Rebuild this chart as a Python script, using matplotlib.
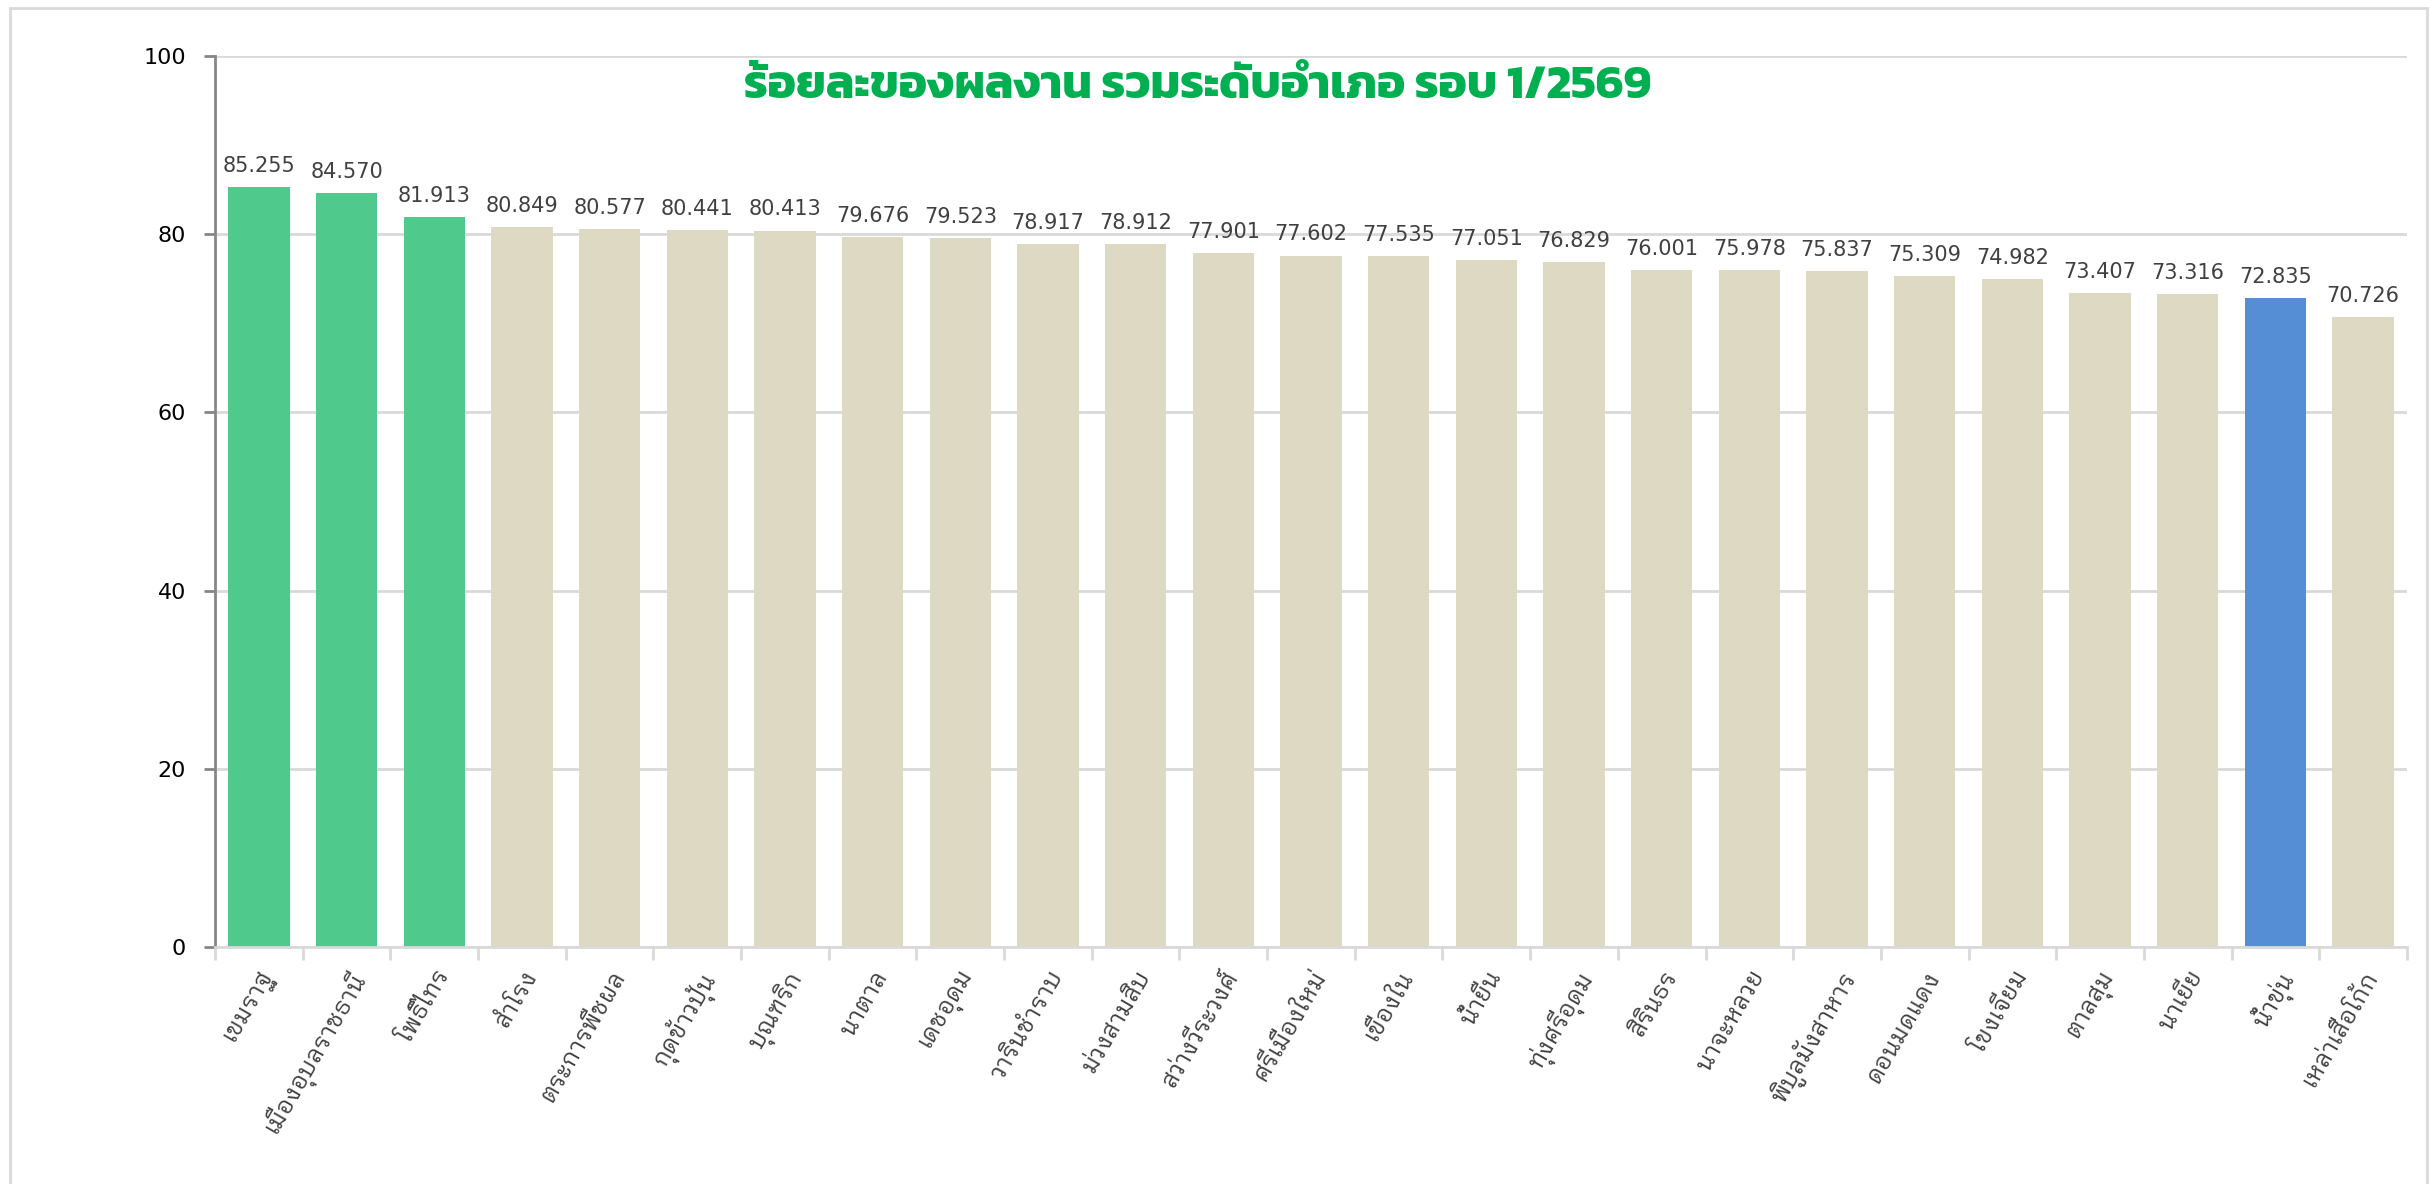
import matplotlib
matplotlib.use("Agg")
import matplotlib.pyplot as plt
import matplotlib.font_manager as fm
from matplotlib.ft2font import FT2Font
from matplotlib.patches import Rectangle
import numpy as np

districts = ["เขมราฐ", "เมืองอุบลราชธานี", "โพธิ์ไทร", "สำโรง", "ตระการพืชผล",
             "กุดข้าวปุ้น", "บุณฑริก", "นาตาล", "เดชอุดม", "วารินชำราบ",
             "ม่วงสามสิบ", "สว่างวีระวงศ์", "ศรีเมืองใหม่", "เขื่องใน", "น้ำยืน",
             "ทุ่งศรีอุดม", "สิรินธร", "นาจะหลวย", "พิบูลมังสาหาร", "ดอนมดแดง",
             "โขงเจียม", "ตาลสุม", "นาเยีย", "น้ำขุ่น", "เหล่าเสือโก้ก"]
scores = [85.255, 84.570, 81.913, 80.849, 80.577, 80.441, 80.413, 79.676, 79.523,
          78.917, 78.912, 77.901, 77.602, 77.535, 77.051, 76.829, 76.001, 75.978,
          75.837, 75.309, 74.982, 73.407, 73.316, 72.835, 70.726]
top3 = ["เขมราฐ", "เมืองอุบลราชธานี", "โพธิ์ไทร"]
highlight = "น้ำขุ่น"
title = "ร้อยละของผลงาน รวมระดับอำเภอ รอบ 1/2569"


# fonts installed here that carry Thai glyphs
thai_found = []
for f in fm.fontManager.ttflist:
    try:
        if 0x0E01 in FT2Font(f.fname).get_charmap() and f.name not in thai_found:
            thai_found.append(f.name)
    except Exception:
        pass


def pick(prefs):
    for p in prefs:
        for n in thai_found:
            if p.lower() in n.lower():
                return n
    return thai_found[0] if thai_found else "DejaVu Sans"


label_font = pick(["Tahoma", "Leelawadee", "Looped", "Loma", "Garuda", "Waree",
                   "Norasi", "Sarabun", "Noto Sans Thai", "Kanit", "Prompt"])
title_font = pick(["Kanit", "Prompt", "Mitr", "Noto Sans Thai", "Sarabun"])

colors = []
for d in districts:
    if d in top3:
        colors.append("#50CA8C")
    elif d == highlight:
        colors.append("#558ED5")
    else:
        colors.append("#DDD9C3")

fig = plt.figure(figsize=(24.3, 11.84), dpi=100)
ax = fig.add_axes([0.0885, 0.2002, 0.902, 0.7525])

x = np.arange(len(districts))
ax.bar(x, scores, width=0.7, color=colors, zorder=2)
for xi, v in zip(x, scores):
    ax.annotate(f"{v:.3f}", (xi, v), xytext=(0, 8), textcoords="offset points",
                ha="center", va="bottom", fontsize=15, color="#404040",
                family="DejaVu Sans")

ax.set_xlim(-0.5, len(districts) - 0.5)
ax.set_ylim(0, 100)
ax.set_yticks([0, 20, 40, 60, 80, 100])
ax.yaxis.grid(True, color="#D9D9D9", linewidth=2, zorder=0)
ax.tick_params(axis="y", labelsize=16, length=8, width=2, color="#868686", pad=13)

ax.set_xticks(x)
ax.set_xticklabels(districts, rotation=60, ha="right", rotation_mode="anchor",
                   fontsize=17, color="#404040", family=[label_font, "DejaVu Sans"])
ax.tick_params(axis="x", length=0, pad=14)
ax.set_xticks(np.arange(len(districts) + 1) - 0.5, minor=True)
ax.tick_params(axis="x", which="minor", length=9, width=2, color="#D9D9D9")

for s in ["top", "right"]:
    ax.spines[s].set_visible(False)
ax.spines["left"].set_color("#868686")
ax.spines["left"].set_linewidth(2)
ax.spines["bottom"].set_color("#D9D9D9")
ax.spines["bottom"].set_linewidth(2)

fig.text(0.493, 0.927, title, ha="center", va="center", fontsize=34,
         fontweight="bold", color="#00B050", family=[title_font, "DejaVu Sans"])

fig.patches.append(Rectangle((10 / 2430, -0.1), 2417 / 2430, 1.1 - 8 / 1184,
                             transform=fig.transFigure, fill=False,
                             edgecolor="#D9D9D9", linewidth=2))

fig.savefig("out.png", dpi=100)
